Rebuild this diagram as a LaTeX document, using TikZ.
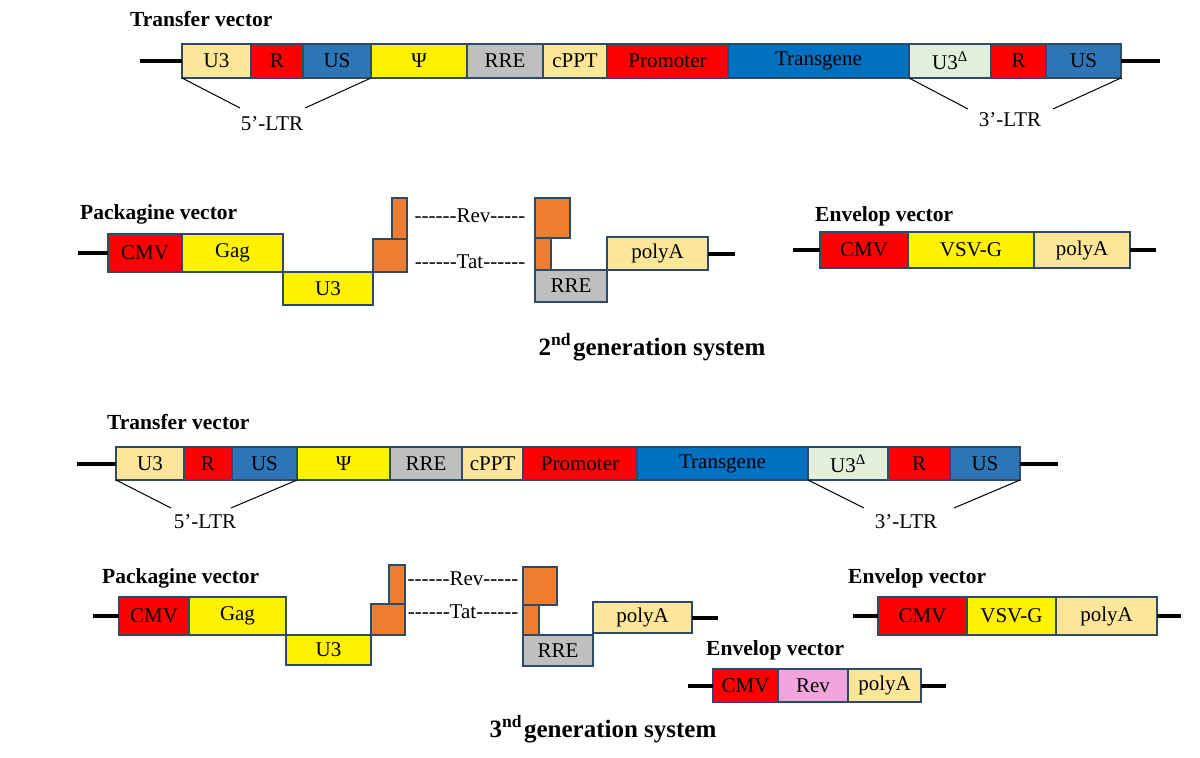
\documentclass[tikz,border=0pt]{standalone}
\usepackage{fontspec}
\setmainfont{Liberation Serif}[Ligatures=TeXOff]
\definecolor{ltyel}{HTML}{FFE699}
\definecolor{usblue}{HTML}{2E75B6}
\definecolor{tgblue}{HTML}{0070C0}
\definecolor{ltgrn}{HTML}{E2F0D9}
\definecolor{rregray}{HTML}{BFBFBF}
\definecolor{tatorg}{HTML}{ED7D31}
\definecolor{revpink}{HTML}{F0A6DC}
\definecolor{edge}{HTML}{2F4A66}
% one gene segment: name, x1, x2, y1, y2, fill, text
\newcommand{\seg}[7]{%
  \node[segbox, fill=#6, minimum width={#3-#2}, minimum height={#5-#4}]
    (#1) at ({(#2+#3)/2}, {(#4+#5)/2}) {#7};}
\begin{document}
\begin{tikzpicture}[x=1pt, y=-1pt,
    segbox/.style={draw=edge, line width=1.1pt, inner sep=0pt, outer sep=0pt,
      font=\fontsize{21}{21}\selectfont},
    backbone/.style={line width=4pt},
    ltrline/.style={line width=1pt},
    title/.style={anchor=base west, inner sep=0pt,
      font=\fontsize{21.5}{22}\selectfont\bfseries},
    lbl/.style={inner sep=0pt, font=\fontsize{21}{21}\selectfont},
    gentitle/.style={anchor=base, inner sep=0pt,
      font=\fontsize{25}{26}\selectfont\bfseries}]
  \useasboundingbox (0,0) rectangle (1200,758);

  % 2nd generation: transfer vector
  \node[title] (tva) at (130,26) {Transfer vector};
  \seg{u3a}{182}{251}{44}{78}{ltyel}{U3}
  \seg{ra}{251}{303}{44}{78}{red}{R}
  \seg{usa}{303}{371}{44}{78}{usblue}{US}
  \seg{psia}{371}{467}{44}{78}{yellow}{Ψ}
  \seg{rrea}{467}{543}{44}{78}{rregray}{RRE}
  \seg{cppta}{543}{607}{44}{78}{ltyel}{cPPT}
  \seg{proma}{607}{728}{44}{78}{red}{Promoter}
  \seg{tga}{728}{909}{44}{78}{tgblue}{Transgene}
  \seg{u3da}{909}{991}{44}{78}{ltgrn}{U3\textsuperscript{Δ}}
  \seg{rra}{991}{1046}{44}{78}{red}{R}
  \seg{usra}{1046}{1121}{44}{78}{usblue}{US}
  \draw[backbone] (u3a.west) -- ++(-42,0);
  \draw[backbone] (usra.east) -- ++(39,0);
  \node[lbl] (ltr5a) at (272,124) {5’-LTR};
  \node[lbl] (ltr3a) at (1010,120) {3’-LTR};
  \coordinate (l5a1) at (240,108);
  \coordinate (l5a2) at (305,108);
  \coordinate (l3a1) at (968,109);
  \coordinate (l3a2) at (1053,109);
  \draw[ltrline] (u3a.south west) -- (l5a1);
  \draw[ltrline] (usa.south east) -- (l5a2);
  \draw[ltrline] (tga.south east) -- (l3a1);
  \draw[ltrline] (usra.south east) -- (l3a2);

  % 2nd generation: packaging vector
  \node[title] (pva) at (80,219) {Packagine vector};
  \seg{cmva}{108}{182}{234}{272}{red}{CMV}
  \seg{gaga}{182}{283}{234}{272}{yellow}{Gag}
  \seg{u3pa}{283}{373}{272}{305}{yellow}{U3}
  \seg{tatla}{373}{407}{239}{272}{tatorg}{}
  \seg{revla}{392}{407}{198}{239}{tatorg}{}
  \seg{revra}{535}{570}{198}{238}{tatorg}{}
  \seg{tatra}{535}{551}{238}{270}{tatorg}{}
  \seg{rrepa}{535}{607}{270}{302}{rregray}{RRE}
  \seg{polypa}{607}{708}{237}{270}{ltyel}{polyA}
  \node[lbl] (reva) at (470,216) {------Rev-----};
  \node[lbl] (tata) at (470,262) {------Tat------};
  \draw[backbone] (cmva.west) -- ++(-30,0);
  \draw[backbone] (polypa.east) -- ++(27,0);

  % 2nd generation: envelope vector
  \node[title] (eva) at (815,221) {Envelop vector};
  \seg{cmvea}{820}{908}{232}{268}{red}{CMV}
  \seg{vsva}{908}{1034}{232}{268}{yellow}{VSV-G}
  \seg{polyea}{1034}{1130}{232}{268}{ltyel}{polyA}
  \draw[backbone] (cmvea.west) -- ++(-27,0);
  \draw[backbone] (polyea.east) -- ++(26,0);

  \node[gentitle] (gena) at (652,355) {2\textsuperscript{nd}\hspace{2pt}generation system};

  % 3rd generation: transfer vector
  \node[title] (tvb) at (107,429) {Transfer vector};
  \seg{u3b}{116}{184}{447}{480}{ltyel}{U3}
  \seg{rb}{184}{232}{447}{480}{red}{R}
  \seg{usb}{232}{297}{447}{480}{usblue}{US}
  \seg{psib}{297}{390}{447}{480}{yellow}{Ψ}
  \seg{rreb}{390}{462}{447}{480}{rregray}{RRE}
  \seg{cpptb}{462}{523}{447}{480}{ltyel}{cPPT}
  \seg{promb}{523}{637}{447}{480}{red}{Promoter}
  \seg{tgb}{637}{808}{447}{480}{tgblue}{Transgene}
  \seg{u3db}{808}{888}{447}{480}{ltgrn}{U3\textsuperscript{Δ}}
  \seg{rrb}{888}{950}{447}{480}{red}{R}
  \seg{usrb}{950}{1020}{447}{480}{usblue}{US}
  \draw[backbone] (u3b.west) -- ++(-39,0);
  \draw[backbone] (usrb.east) -- ++(38,0);
  \node[lbl] (ltr5b) at (205,522) {5’-LTR};
  \node[lbl] (ltr3b) at (906,522) {3’-LTR};
  \coordinate (l5b1) at (171,508);
  \coordinate (l5b2) at (231,508);
  \coordinate (l3b1) at (864,508);
  \coordinate (l3b2) at (954,508);
  \draw[ltrline] (u3b.south west) -- (l5b1);
  \draw[ltrline] (usb.south east) -- (l5b2);
  \draw[ltrline] (tgb.south east) -- (l3b1);
  \draw[ltrline] (usrb.south east) -- (l3b2);

  % 3rd generation: packaging vector
  \node[title] (pvb) at (102,583) {Packagine vector};
  \seg{cmvb}{119}{189}{597}{635}{red}{CMV}
  \seg{gagb}{189}{286}{597}{635}{yellow}{Gag}
  \seg{u3pb}{286}{371}{635}{665}{yellow}{U3}
  \seg{tatlb}{371}{405}{604}{635}{tatorg}{}
  \seg{revlb}{389}{405}{565}{604}{tatorg}{}
  \seg{revrb}{523}{557}{567}{605}{tatorg}{}
  \seg{tatrb}{523}{539}{605}{635}{tatorg}{}
  \seg{rrepb}{523}{593}{635}{666}{rregray}{RRE}
  \seg{polypb}{593}{692}{602}{633}{ltyel}{polyA}
  \node[lbl] (revb) at (463,579) {------Rev-----};
  \node[lbl] (tatb) at (463,612) {------Tat------};
  \draw[backbone] (cmvb.west) -- ++(-26,0);
  \draw[backbone] (polypb.east) -- ++(26,0);

  % 3rd generation: envelope vectors
  \node[title] (evb) at (848,583) {Envelop vector};
  \seg{cmveb}{878}{967}{597}{635}{red}{CMV}
  \seg{vsvb}{967}{1056}{597}{635}{yellow}{VSV-G}
  \seg{polyeb}{1056}{1157}{597}{635}{ltyel}{polyA}
  \draw[backbone] (cmveb.west) -- ++(-25,0);
  \draw[backbone] (polyeb.east) -- ++(24,0);

  \node[title] (evc) at (706,655) {Envelop vector};
  \seg{cmvc}{713}{778}{669}{702}{red}{CMV}
  \seg{revc}{778}{848}{669}{702}{revpink}{Rev}
  \seg{polyc}{848}{921}{669}{702}{ltyel}{polyA}
  \draw[backbone] (cmvc.west) -- ++(-25,0);
  \draw[backbone] (polyc.east) -- ++(25,0);

  \node[gentitle] (genb) at (603,737) {3\textsuperscript{nd}\hspace{2pt}generation system};
\end{tikzpicture}
\end{document}
